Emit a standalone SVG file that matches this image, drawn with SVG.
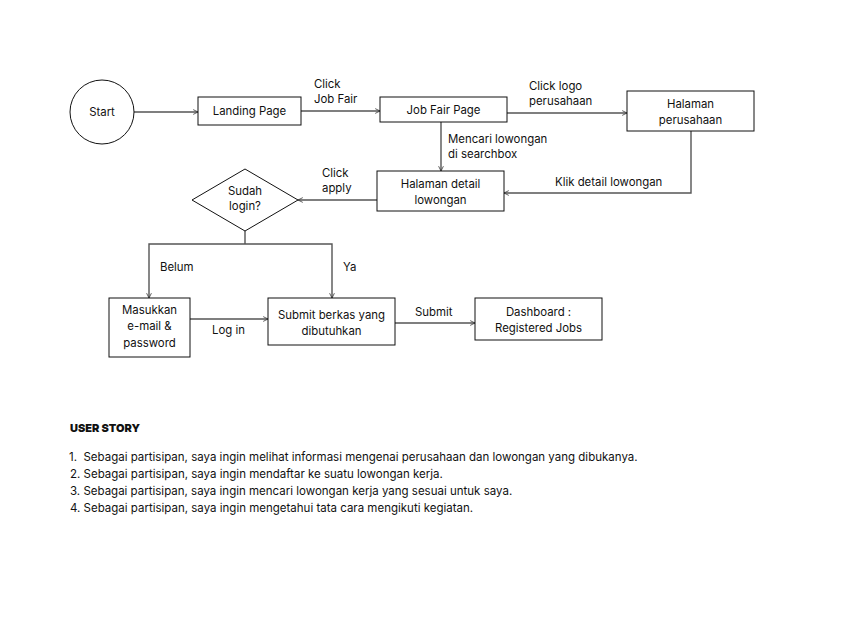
<svg xmlns="http://www.w3.org/2000/svg" width="842" height="634" viewBox="0 0 842 634">
<style>
text{font-family:Inter,"Noto Sans","Liberation Sans",sans-serif;font-size:11.4px;fill:#111}
.c{text-anchor:middle}
.n{fill:#fff;stroke:#111;stroke-width:1}
.e{fill:none;stroke:#555;stroke-width:1.4;marker-end:url(#a)}
.s{font-size:11.5px}
.b{font-size:11px;font-weight:900}
</style>
<defs>
<marker id="a" viewBox="0 0 10 10" refX="9" refY="5" markerWidth="6" markerHeight="6" orient="auto" markerUnits="userSpaceOnUse">
<path d="M1,1 L9,5 L1,9" fill="none" stroke="#333" stroke-width="1.3"/>
</marker>
</defs>
<rect width="842" height="634" fill="#fff"/>
<g id="connectors">
<line class="e" x1="134" y1="112" x2="198" y2="112"/>
<line class="e" x1="301" y1="111" x2="380" y2="111"/>
<line class="e" x1="507" y1="113" x2="627" y2="113"/>
<line class="e" x1="441" y1="122" x2="441" y2="171"/>
<polyline class="e" points="691,131 691,193 504,193"/>
<line class="e" x1="377" y1="200" x2="298" y2="200"/>
<polyline fill="none" stroke="#555" stroke-width="1.4" points="245,231 245,244"/>
<polyline class="e" points="245,244 149,244 149,298"/>
<polyline class="e" points="245,244 332,244 332,298"/>
<line class="e" x1="190" y1="319" x2="268" y2="319"/>
<line class="e" x1="395" y1="323" x2="475" y2="323"/>
<text x="314" y="88">Click</text>
<text x="314" y="103">Job Fair</text>
<text x="529" y="90">Click logo</text>
<text x="529" y="105">perusahaan</text>
<text x="448" y="143">Mencari lowongan</text>
<text x="448" y="158">di searchbox</text>
<text x="555" y="186">Klik detail lowongan</text>
<text x="322" y="177">Click</text>
<text x="322" y="192">apply</text>
<text x="160" y="271">Belum</text>
<text x="343" y="271">Ya</text>
<text x="212" y="334">Log in</text>
<text x="415" y="316">Submit</text>
</g>
<g id="start">
<circle class="n" cx="102" cy="112" r="32"/>
<text class="c" x="102" y="116">Start</text>
</g>
<g id="landing">
<rect class="n" x="198" y="97" width="103" height="28"/>
<text class="c" x="249.5" y="115">Landing Page</text>
</g>
<g id="jobfair">
<rect class="n" x="380" y="97" width="127" height="25"/>
<text class="c" x="443.5" y="114">Job Fair Page</text>
</g>
<g id="perusahaan">
<rect class="n" x="627" y="91" width="127" height="40"/>
<text class="c" x="690.5" y="108">Halaman</text>
<text class="c" x="690.5" y="124">perusahaan</text>
</g>
<g id="detail">
<rect class="n" x="377" y="171" width="127" height="40"/>
<text class="c" x="440.5" y="188">Halaman detail</text>
<text class="c" x="440.5" y="204">lowongan</text>
</g>
<g id="login-check">
<polygon class="n" points="245,169 298,200 245,231 192,200"/>
<text class="c" x="245" y="195">Sudah</text>
<text class="c" x="245" y="210">login?</text>
</g>
<g id="masukkan">
<rect class="n" x="109" y="298" width="81" height="59"/>
<text class="c" x="149.5" y="314">Masukkan</text>
<text class="c" x="149.5" y="330">e-mail &amp;</text>
<text class="c" x="149.5" y="347">password</text>
</g>
<g id="submit">
<rect class="n" x="268" y="298" width="127" height="47"/>
<text class="c" x="331.5" y="319">Submit berkas yang</text>
<text class="c" x="331.5" y="335">dibutuhkan</text>
</g>
<g id="dashboard">
<rect class="n" x="475" y="298" width="127" height="42"/>
<text class="c" x="538.5" y="316">Dashboard :</text>
<text class="c" x="538.5" y="332">Registered Jobs</text>
</g>
<g id="user-story">
<text class="b" x="70" y="432">USER STORY</text>
<text class="s" x="69" y="461" xml:space="preserve">1.  Sebagai partisipan, saya ingin melihat informasi mengenai perusahaan dan lowongan yang dibukanya.</text>
<text class="s" x="70" y="478">2. Sebagai partisipan, saya ingin mendaftar ke suatu lowongan kerja.</text>
<text class="s" x="70" y="495">3. Sebagai partisipan, saya ingin mencari lowongan kerja yang sesuai untuk saya.</text>
<text class="s" x="70" y="512">4. Sebagai partisipan, saya ingin mengetahui tata cara mengikuti kegiatan.</text>
</g>
</svg>
